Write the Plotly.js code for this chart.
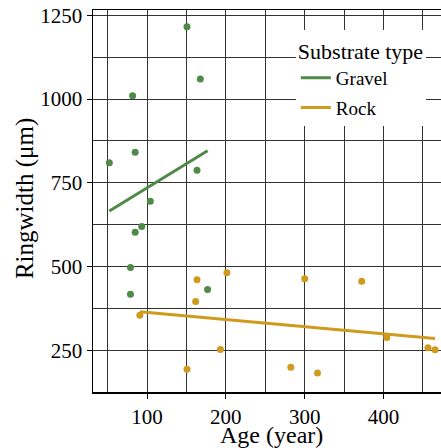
<!DOCTYPE html>
<html>
<head>
<meta charset="utf-8">
<script src="https://cdn.plot.ly/plotly-3.0.1.min.js"></script>
<style>
html,body{margin:0;padding:0;overflow:hidden;background:#fff;}
#chart{width:450px;height:448px;}
</style>
</head>
<body>
<div id="chart"></div>
<script>
// Gravel substrate
const gravelAge = [150.7, 167.6, 81.7, 85, 52.2, 163.4, 104.2, 93.3, 85, 79, 176.8, 79];
const gravelRing = [1216, 1060, 1010, 841, 810, 787, 695, 619, 602, 497, 431, 417];
// Rock substrate
const rockAge = [201.3, 163.4, 161.7, 90.9, 193.1, 150.7, 300, 372.3, 404.1, 456.3, 465.2, 282.4, 316.2];
const rockRing = [481, 460, 395, 354, 252, 193, 463, 456, 288, 257, 251, 199, 182];

const groupNames = ["Gravel", "Rock"];
const groupColors = ["#4f8a49", "#cf9b1e"];
const xTicks = [100, 200, 300, 400];
const yTicks = [250, 500, 750, 1000, 1250];

function fit(xs, ys) {
  const n = xs.length;
  const mx = xs.reduce((a, b) => a + b, 0) / n;
  const my = ys.reduce((a, b) => a + b, 0) / n;
  let sxy = 0, sxx = 0;
  for (let i = 0; i < n; i++) { sxy += (xs[i] - mx) * (ys[i] - my); sxx += (xs[i] - mx) ** 2; }
  const b = sxy / sxx, a = my - b * mx;
  const x0 = Math.min(...xs), x1 = Math.max(...xs);
  return { x: [x0, x1], y: [a + b * x0, a + b * x1] };
}

const groups = [[gravelAge, gravelRing], [rockAge, rockRing]];
const traces = [];
groups.forEach((g, i) => {
  traces.push({
    type: "scatter", mode: "markers", x: g[0], y: g[1], showlegend: false,
    marker: { color: groupColors[i], size: 7, line: { width: 0 } }, hoverinfo: "skip"
  });
});
groups.forEach((g, i) => {
  const f = fit(g[0], g[1]);
  traces.push({
    type: "scatter", mode: "lines", x: f.x, y: f.y, name: groupNames[i],
    legendgroup: groupNames[i],
    line: { color: groupColors[i], width: 3 }
  });
});

const fam = "Liberation Serif";
const layout = {
  width: 450, height: 448,
  margin: { l: 93, r: 1, t: 10, b: 56 },
  paper_bgcolor: "#fff", plot_bgcolor: "#fff",
  font: { family: fam, size: 18, color: "#000" },
  showlegend: true,
  xaxis: {
    range: [31.5, 483], tickvals: xTicks, ticks: "outside", ticklen: 5,
    tickcolor: "#000", tickwidth: 1, showgrid: true, gridcolor: "#333", gridwidth: 1,
    minor: { dtick: 50, tick0: 0, showgrid: true, gridcolor: "#333", gridwidth: 1 },
    showline: true, linecolor: "#000", linewidth: 1.5, mirror: true, zeroline: false,
    tickfont: { family: fam, size: 21, color: "#000" }
  },
  yaxis: {
    range: [125, 1266], tickvals: yTicks, ticks: "outside", ticklen: 5,
    tickcolor: "#000", tickwidth: 1, showgrid: true, gridcolor: "#333", gridwidth: 1,
    minor: { dtick: 125, tick0: 0, showgrid: true, gridcolor: "#333", gridwidth: 1 },
    showline: true, linecolor: "#000", linewidth: 1.5, mirror: true, zeroline: false,
    tickfont: { family: fam, size: 21, color: "#000" }
  },
  annotations: [
    { text: "Age (year)", xref: "paper", yref: "paper", x: 0.5, y: -0.112,
      xanchor: "center", yanchor: "middle", showarrow: false,
      font: { family: fam, size: 24, color: "#000" } },
    { text: "Ringwidth (μm)", xref: "paper", yref: "paper", x: -0.191, y: 0.505,
      xanchor: "center", yanchor: "middle", showarrow: false, textangle: -90,
      font: { family: fam, size: 25, color: "#000" } }
  ],
  legend: {
    x: 0.935, xanchor: "right", y: 0.947, yanchor: "top",
    bgcolor: "#fff", borderwidth: 0, itemwidth: 30, tracegroupgap: 2,
    font: { family: fam, size: 19, color: "#000" },
    title: { text: "Substrate type", font: { family: fam, size: 22, color: "#000" } }
  }
};
Plotly.newPlot("chart", traces, layout, { displayModeBar: false, staticPlot: true });
</script>
</body>
</html>
